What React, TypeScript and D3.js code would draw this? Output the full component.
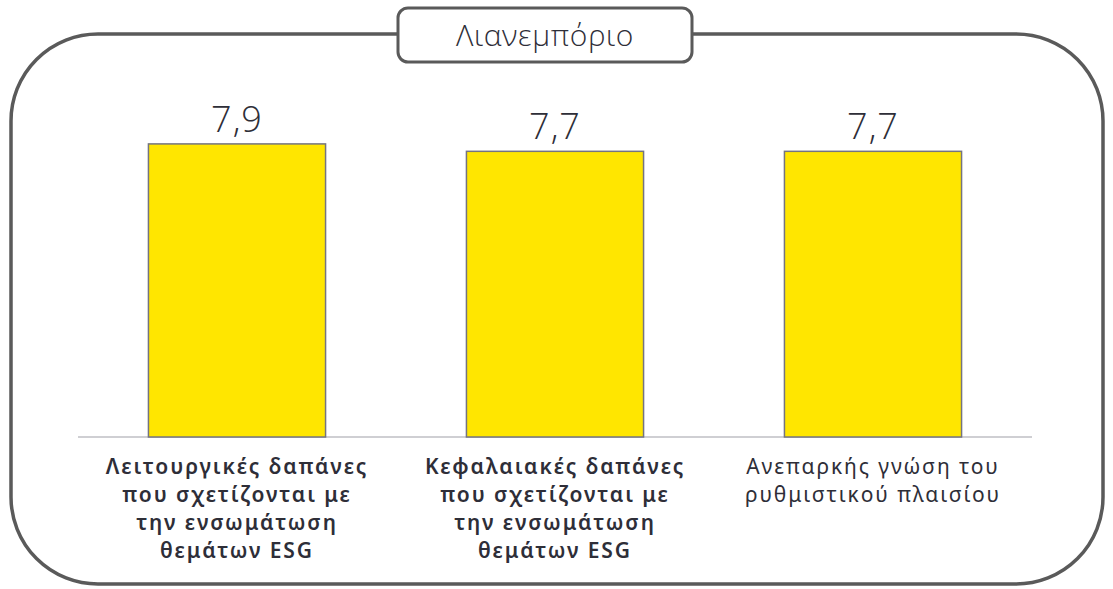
import React from "react";
import * as d3 from "d3";

const title = "Λιανεμπόριο";
const categories = ["cat1", "cat2", "cat3"];
const values = [7.9, 7.7, 7.7];
const valueLabels = ["7,9", "7,7", "7,7"];
const labelLines = [
  ["Λειτουργικές δαπάνες", "που σχετίζονται με", "την ενσωμάτωση", "θεμάτων ESG"],
  ["Κεφαλαιακές δαπάνες", "που σχετίζονται με", "την ενσωμάτωση", "θεμάτων ESG"],
  ["Ανεπαρκής γνώση του", "ρυθμιστικού πλαισίου"],
];
const labelBold = [true, true, false];

const W = 1113;
const H = 589;
const FONT = "'Noto Sans', 'DejaVu Sans', sans-serif";
const LIGHT = "'Open Sans', 'Noto Sans', sans-serif";

export default function App() {
  const x = d3.scaleBand<string>().domain(categories).range([78, 1032]).paddingInner(0.443).paddingOuter(0.2215);
  const y = d3.scaleLinear().domain([0, 10]).range([437, 66]);
  const bw = x.bandwidth();

  const ox = 11, oy = 34, ow = 1092, oh = 550, r = 87;
  const tb = { x: 398, y: 8, w: 294, h: 54 };

  return (
    <div style={{ position: "absolute", left: 0, top: 0 }}>
      <svg width={W} height={H} style={{ display: "block" }}>
        <rect width={W} height={H} fill="#ffffff" />
        <rect x={ox} y={oy} width={ow} height={oh} rx={r} ry={r} fill="none" stroke="#5a5a5a" strokeWidth={3.5} />
        <line x1={x.range()[0]} x2={x.range()[1]} y1={y(0)} y2={y(0)} stroke="#a0a0a8" strokeWidth={1.2} />
        {categories.map((c, i) => (
          <g key={c}>
            <rect
              x={x(c)!}
              y={y(values[i])}
              width={bw}
              height={y(0) - y(values[i])}
              fill="#FFE600"
              stroke="#747480"
              strokeWidth={1.5}
            />
            <text
              x={x(c)! + bw / 2}
              y={y(values[i]) - 12}
              textAnchor="middle"
              fontFamily={LIGHT}
              fontWeight={300}
              fontSize={36}
              letterSpacing={1}
              fill="#2e2e38"
            >
              {valueLabels[i]}
            </text>
            {labelLines[i].map((ln, j) => (
              <text
                key={j}
                x={x(c)! + bw / 2}
                y={474 + j * 28}
                textAnchor="middle"
                fontFamily={FONT}
                fontSize={21}
                fontWeight={labelBold[i] ? 600 : 400}
                letterSpacing={1.9}
                fill="#2e2e38"
              >
                {ln}
              </text>
            ))}
          </g>
        ))}
        <rect x={tb.x} y={tb.y} width={tb.w} height={tb.h} rx={10} ry={10} fill="#ffffff" stroke="#5a5a5a" strokeWidth={3} />
        <text x={tb.x + tb.w / 2} y={tb.y + 38} textAnchor="middle" fontFamily={LIGHT} fontWeight={300} fontSize={30} letterSpacing={0.6} fill="#2e2e38">
          {title}
        </text>
      </svg>
    </div>
  );
}
